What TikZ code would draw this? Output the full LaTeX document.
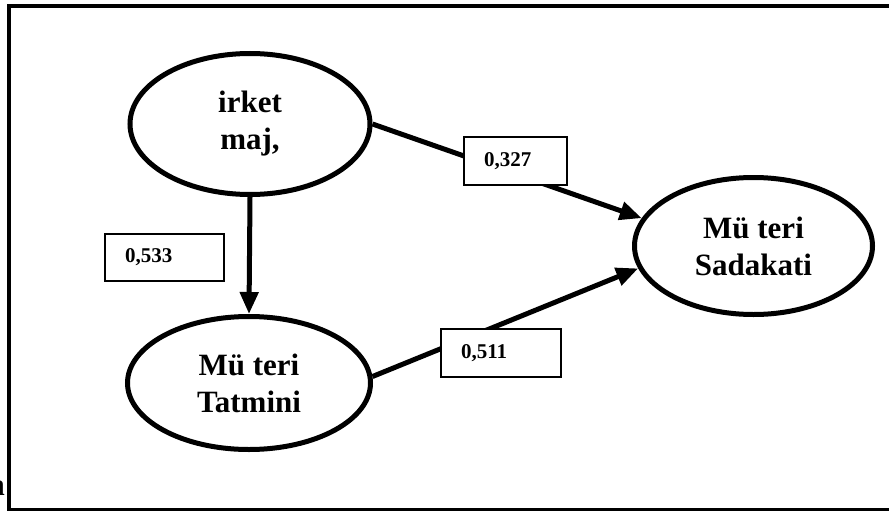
\documentclass[tikz,border=0pt]{standalone}
\usepackage{fontspec}
\setmainfont{Liberation Serif}
\usetikzlibrary{shapes.geometric,arrows.meta}
\begin{document}
\begin{tikzpicture}[x=1pt,y=-1pt,
  latent/.style={ellipse, draw, line width=5pt, inner sep=0pt, align=center,
    font=\fontsize{31}{37}\selectfont\bfseries},
  coef/.style={draw, line width=2pt, fill=white, anchor=north west, inner xsep=20pt, inner ysep=0pt,
    align=left, font=\fontsize{21}{25}\selectfont\bfseries},
  pathline/.style={line width=5pt, -{Triangle[length=22pt,width=18pt]}},
  frameline/.style={line width=3.5pt}]
\useasboundingbox (0,0) rectangle (889,511);
\draw[frameline] (896,6) -- (8.8,6) -- (8.8,509.5) -- (896,509.5);
\node[anchor=base east, inner sep=0pt, font=\fontsize{31}{37}\selectfont\bfseries] (cut) at (5,495) {n};

\node[latent, minimum width=240pt, minimum height=141pt] (img) at (250,124) {irket\\maj,};
\node[latent, minimum width=243pt, minimum height=133pt] (sat) at (249,383) {Mü teri\\Tatmini};
\node[latent, minimum width=238pt, minimum height=137pt] (loy) at (753.5,246) {Mü teri\\Sadakati};

\draw[pathline] (img.south) -- (sat.north);
\draw[pathline] (img.east) -- (loy.166);
\draw[pathline] (sat.3) -- (loy.191);

\node[coef, minimum width=119pt, minimum height=47pt, text width=79pt] (c1) at (104,233) {0,533};
\node[coef, minimum width=103pt, minimum height=48pt, text width=63pt] (c2) at (463,136) {0,327};
\node[coef, minimum width=120pt, minimum height=48pt, text width=80pt] (c3) at (440,328) {0,511};
\end{tikzpicture}
\end{document}
